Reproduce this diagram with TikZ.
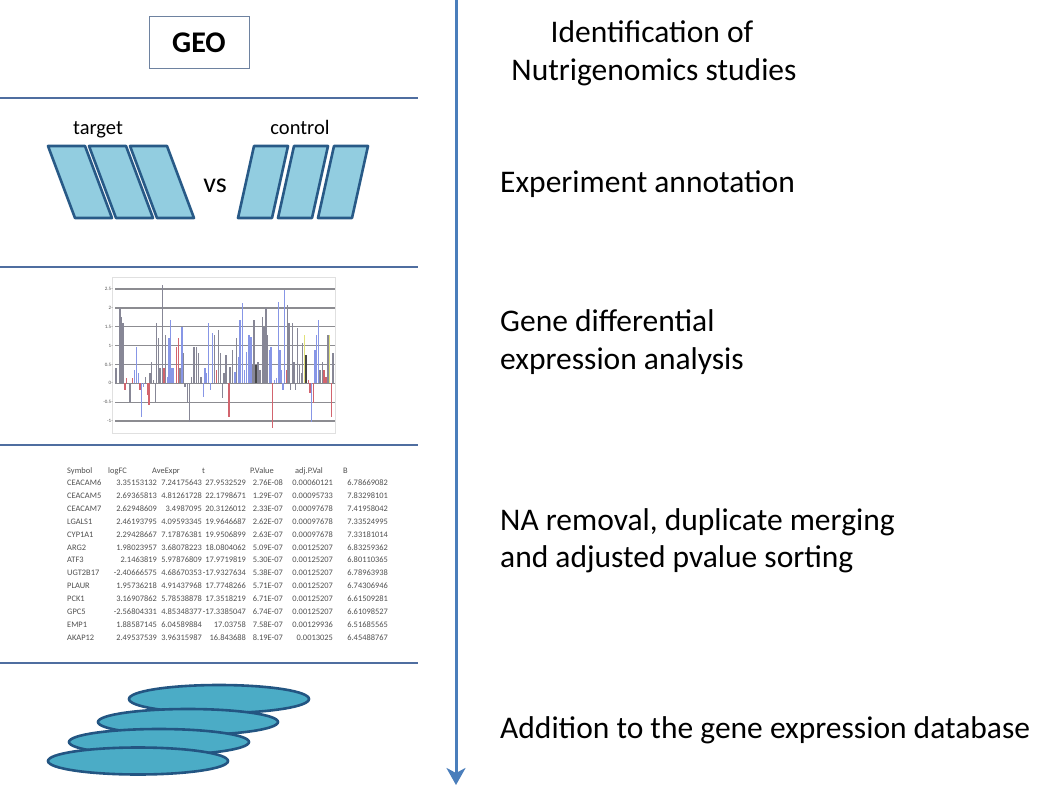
\documentclass[tikz,border=0pt]{standalone}
\usepackage{fontspec}
\setmainfont{Carlito}
\usetikzlibrary{arrows.meta}
\definecolor{sepc}{RGB}{79,110,160}
\definecolor{arrc}{RGB}{74,126,187}
\definecolor{geoc}{RGB}{110,130,160}
\definecolor{parafill}{RGB}{146,205,224}
\definecolor{paradraw}{RGB}{40,90,135}
\definecolor{ellfill}{RGB}{75,172,198}
\definecolor{elldraw}{RGB}{35,85,130}
\definecolor{barg}{RGB}{135,135,150}
\definecolor{barb}{RGB}{135,150,230}
\definecolor{barr}{RGB}{210,100,110}
\definecolor{bary}{RGB}{225,225,120}
\definecolor{bark}{RGB}{70,70,70}
\definecolor{gridc}{RGB}{140,140,145}
\definecolor{tabc}{RGB}{80,80,80}
\begin{document}
\begin{tikzpicture}[x=1pt,y=-1pt,
  sep/.style={draw=sepc,line width=1.5pt},
  flow/.style={draw=arrc,line width=3pt,-{Stealth[length=17pt,width=19pt,inset=5pt]}},
  steptext/.style={anchor=base west,inner sep=0pt,font=\fontsize{31.5}{37.5}\selectfont},
  titletext/.style={anchor=base,inner sep=0pt,font=\fontsize{31.5}{37.5}\selectfont},
  para/.style={fill=parafill,draw=paradraw,line width=2.6pt,line join=round},
  disc/.style={fill=ellfill,draw=elldraw,line width=2.6pt},
  smalllabel/.style={anchor=base,inner sep=0pt,font=\fontsize{20.5}{24}\selectfont},
  tick/.style={anchor=east,inner sep=0pt,font=\fontsize{5}{6}\selectfont,text=tabc},
  cellL/.style={anchor=base west,inner sep=0pt,font=\fontsize{8.4}{9}\selectfont,text=tabc},
  cellR/.style={anchor=base east,inner sep=0pt,font=\fontsize{8.4}{9}\selectfont,text=tabc}]
\useasboundingbox[fill=white] (0,0) rectangle (1063,802);

% separators
\foreach \yy in {98,267,445,663} \draw[sep] (0,\yy) -- (418,\yy);

% main arrow
\coordinate (atop) at (456,0);
\coordinate (abot) at (456,785);
\draw[flow] (atop) -- (abot);

% step 1
\node[draw=geoc,line width=1pt,minimum width=100pt,minimum height=52pt,inner sep=0pt,
      font=\bfseries\fontsize{30}{34}\selectfont] (geo) at (199,43) {GEO};
\node[titletext] (t1a) at (652,43) {Identification of};
\node[titletext] (t1b) at (654,81) {Nutrigenomics studies};

% step 2
\node[smalllabel] (target) at (98,135) {target};
\node[smalllabel] (control) at (300,135) {control};
\node[anchor=base,inner sep=0pt,font=\fontsize{28}{32}\selectfont] (vs) at (215,193) {vs};
\foreach \i in {0,1,2}
  \draw[para] ({48+41*\i},146) -- ({85+41*\i},146) -- ({112+41*\i},218) -- ({75+41*\i},218) -- cycle;
\foreach \i in {0,1,2}
  \draw[para] ({254+40*\i},146) -- ({288+40*\i},146) -- ({272+40*\i},218) -- ({238+40*\i},218) -- cycle;
\node[steptext] (t2) at (500,193) {Experiment annotation};

% step 3: chart
\draw[draw=black!12,line width=0.8pt] (112,277) rectangle (335,433);
\foreach \v/\lab in {2.5/2.5,2/2,1.5/1.5,1/1,0.5/0.5,0/0,-0.5/-0.5,-1/-1}{
  \draw[draw=gridc,line width=1.3pt] (115,{383.3-37.7*\v}) -- (335,{383.3-37.7*\v});
  \node[tick] at (113,{383.3-37.7*\v}) {\lab-};
}
\foreach \zx/\zy/\c in {
48/295/g,60/115/g,64/140/g,68/160/g,71/160/g,75/360/r,80/325/r,90/395/g,97/325/r,103/300/b,
110/230/b,115/310/b,120/360/r,125/440/b,130/350/b,137/320/g,143/375/r,147/405/r,150/310/g,155/275/g,
160/330/g,166/395/g,170/160/g,175/205/g,180/295/g,187/45/g,192/295/r,197/195/g,203/320/b,207/205/b,
211/150/b,216/295/b,221/295/b,230/230/r,235/205/r,240/295/g,246/170/b,250/250/g,255/350/g,262/400/g,
268/455/g,275/320/g,282/230/g,290/230/g,295/250/g,303/320/g,310/380/b,315/295/b,320/310/b,326/160/b,
332/360/b,338/190/b,343/195/g,350/300/r,355/180/g,362/250/g,367/385/g,372/310/g,378/255/g,387/440/r,
390/290/g,397/240/g,405/305/b,410/205/g,415/260/b,420/150/b,427/100/b,433/300/b,440/245/b,447/195/b,
453/200/b,458/285/g,462/150/g,468/285/k,474/275/g,480/300/g,487/140/g,492/170/g,498/115/g,503/195/g,
508/240/b,513/230/b,518/475/r,523/330/b,530/325/b,535/95/b,540/240/b,545/300/b,549/360/b,554/60/b,
559/300/r,563/105/g,567/160/g,572/360/g,577/160/g,582/275/g,587/360/g,593/175/g,598/285/g,604/310/g,
608/220/g,613/195/y,618/255/k,625/330/r,630/370/r,634/455/b,640/400/r,645/240/b,650/195/b,655/150/b,
660/300/g,667/275/g,672/300/r,678/320/r,684/195/g,688/195/y,694/440/r,699/250/g}
  \draw[draw=bar\c,line width=1.6pt] ({100+\zx/3},383.3) -- ({100+\zx/3},{270+\zy/3});
\node[steptext] (t3a) at (500,332) {Gene differential};
\node[steptext] (t3b) at (500,369) {expression analysis};

% step 4: table
\node[cellL] at (67,473) {Symbol};
\node[cellL] at (108,473) {logFC};
\node[cellL] at (152,473) {AveExpr};
\node[cellL] at (202,473) {t};
\node[cellL] at (250,473) {P.Value};
\node[cellL] at (295,473) {adj.P.Val};
\node[cellL] at (343,473) {B};
\foreach \i/\s/\a/\b/\c/\d/\e/\f in {
1/CEACAM6/3.35153132/7.24175643/27.9532529/2.76E-08/0.00060121/6.78669082,
2/CEACAM5/2.69365813/4.81261728/22.1798671/1.29E-07/0.00095733/7.83298101,
3/CEACAM7/2.62948609/3.4987095/20.3126012/2.33E-07/0.00097678/7.41958042,
4/LGALS1/2.46193795/4.09593345/19.9646687/2.62E-07/0.00097678/7.33524995,
5/CYP1A1/2.29428667/7.17876381/19.9506899/2.63E-07/0.00097678/7.33181014,
6/ARG2/1.98023957/3.68078223/18.0804062/5.09E-07/0.00125207/6.83259362,
7/ATF3/2.1463819/5.97876809/17.9719819/5.30E-07/0.00125207/6.80110365,
8/UGT2B17/-2.40666575/4.68670353/-17.9327634/5.38E-07/0.00125207/6.78963938,
9/PLAUR/1.95736218/4.91437968/17.7748266/5.71E-07/0.00125207/6.74306946,
10/PCK1/3.16907862/5.78538878/17.3518219/6.71E-07/0.00125207/6.61509281,
11/GPC5/-2.56804331/4.85348377/-17.3385047/6.74E-07/0.00125207/6.61098527,
12/EMP1/1.88587145/6.04589884/17.03758/7.58E-07/0.00129936/6.51685565,
13/AKAP12/2.49537539/3.96315987/16.843688/8.19E-07/0.0013025/6.45488767}{
  \node[cellL] at (67,{473+12.85*\i}) {\s};
  \node[cellR] at (157,{473+12.85*\i}) {\a};
  \node[cellR] at (202,{473+12.85*\i}) {\b};
  \node[cellR] at (246,{473+12.85*\i}) {\c};
  \node[cellR] at (283,{473+12.85*\i}) {\d};
  \node[cellR] at (333,{473+12.85*\i}) {\e};
  \node[cellR] at (388,{473+12.85*\i}) {\f};
}
\node[steptext] (t4a) at (500,530) {NA removal, duplicate merging};
\node[steptext] (t4b) at (500,567) {and adjusted pvalue sorting};

% step 5: database discs
\draw[disc] (219,699) ellipse [x radius=90, y radius=14];
\draw[disc] (188,722) ellipse [x radius=90, y radius=13];
\draw[disc] (159,742) ellipse [x radius=90, y radius=13];
\draw[disc] (138,761) ellipse [x radius=90, y radius=13.5];
\node[steptext] (t5) at (500,738) {Addition to the gene expression database};
\end{tikzpicture}
\end{document}
